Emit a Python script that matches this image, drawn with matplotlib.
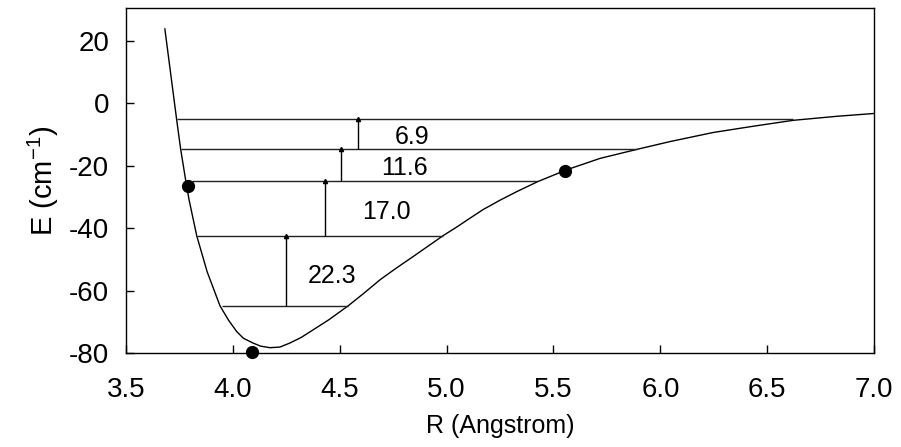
import matplotlib
matplotlib.use("Agg")
import matplotlib.pyplot as plt
import numpy as np

plt.rcParams['font.family'] = ['Liberation Sans', 'DejaVu Sans']
plt.rcParams['mathtext.fontset'] = 'custom'
plt.rcParams['mathtext.rm'] = 'Liberation Sans'
plt.rcParams['axes.unicode_minus'] = False

# potential curve
r_curve = [3.682, 3.737, 3.756, 3.781, 3.795, 3.831, 3.88, 3.94, 3.98, 4.019,
           4.05, 4.094, 4.13, 4.174, 4.22, 4.267, 4.32, 4.375, 4.45, 4.539,
           4.61, 4.689, 4.76, 4.843, 4.91, 4.983, 5.05, 5.10, 5.171, 5.25,
           5.33, 5.428, 5.564, 5.718, 5.891, 6.046, 6.247, 6.434, 6.621, 6.827, 7.0]
e_curve = [23.9, -5.1, -14.7, -25.3, -30.8, -42.4, -54.0, -64.9, -69.5, -73.2,
           -75.3, -76.8, -77.8, -78.3, -78.1, -76.8, -75.0, -72.6, -69.3, -64.9,
           -61.0, -56.5, -53.0, -49.1, -45.9, -42.4, -39.5, -37.2, -34.0, -31.0,
           -28.2, -25.0, -21.2, -17.6, -14.7, -12.2, -9.3, -7.3, -5.4, -4.1, -3.2]

# vibrational levels
level_e = [-5.1, -14.7, -25.0, -42.4, -64.9]
level_left = [3.737, 3.756, 3.807, 3.831, 3.948]
level_right = [6.621, 5.891, 5.423, 4.983, 4.539]

# spacing arrows
gap_r = [4.587, 4.506, 4.431, 4.247]
gap_lo = [-14.7, -25.0, -42.4, -64.9]
gap_hi = [-5.1, -14.7, -25.0, -42.4]
gap_txt = ['6.9', '11.6', '17.0', '22.3']
txt_r = [4.838, 4.801, 4.717, 4.463]
txt_e = [-13.0, -23.0, -37.0, -57.5]   # baselines

# marked points
dot_r = [3.79, 4.09, 5.555]
dot_e = [-26.6, -79.7, -21.5]

fig = plt.figure(figsize=(9.01, 4.47), dpi=100)
ax = fig.add_axes([0.1398, 0.2103, 0.8304, 0.7717])

ax.plot(r_curve, e_curve, color='black', lw=1.0)
ax.hlines(level_e, level_left, level_right, color='#222222', lw=1.0)
ax.vlines(gap_r, gap_lo, gap_hi, color='black', lw=1.0)
ax.plot(gap_r, gap_hi, ls='none', marker='^', ms=3, color='black')
for r, e, t in zip(txt_r, txt_e, gap_txt):
    ax.text(r, e, t, fontsize=18, ha='center', va='baseline')

ax.plot(dot_r, dot_e, ls='none', marker='o', ms=8.5, color='black', clip_on=False, zorder=5)

ax.set_xlim(3.5, 7.0)
ax.set_ylim(-80, 30.6)
ax.set_xticks(np.arange(3.5, 7.01, 0.5))
ax.set_xticklabels(['3.5', '4.0', '4.5', '5.0', '5.5', '6.0', '6.5', '7.0'])
ax.set_yticks([-80, -60, -40, -20, 0, 20])
ax.tick_params(direction='in', length=6, width=1, labelsize=20)
ax.tick_params(axis='x', pad=17)
ax.tick_params(axis='y', pad=12)
for s in ax.spines.values():
    s.set_linewidth(1.0)

ax.set_xlabel('R (Angstrom)', fontsize=18, labelpad=8)
ax.set_ylabel('E (cm$^{\\mathregular{-1}}$)', fontsize=21, labelpad=6)

fig.savefig('out.png', dpi=100)
